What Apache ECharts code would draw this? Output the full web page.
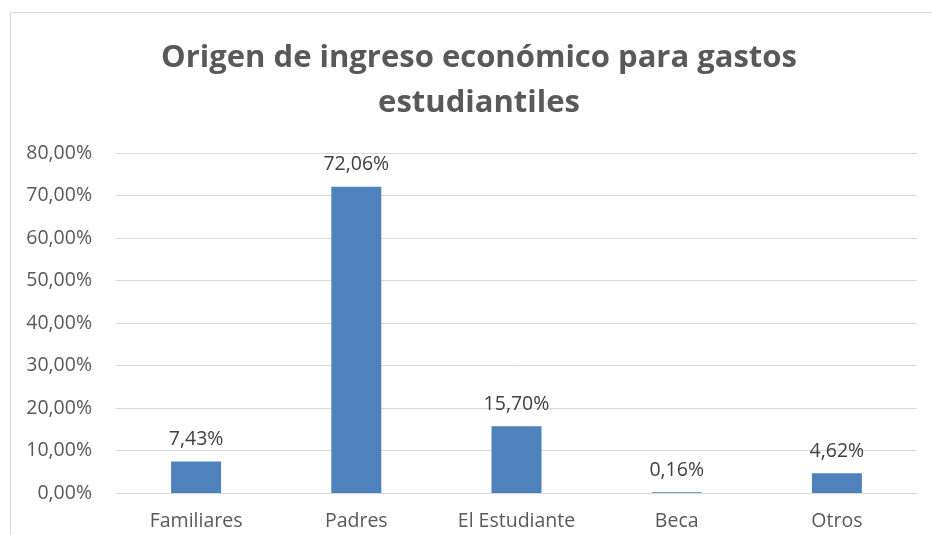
<!DOCTYPE html>
<html><head><meta charset="utf-8">
<script src="https://cdn.jsdelivr.net/npm/echarts@6/dist/echarts.min.js"></script>
<style>html,body{margin:0;padding:0;background:#fff}#c{width:932px;height:535px}</style>
</head><body><div id="c"></div>
<script>
var categories = ['Familiares', 'Padres', 'El Estudiante', 'Beca', 'Otros'];
var values = [7.43, 72.06, 15.70, 0.16, 4.62];
var titleText = 'Origen de ingreso económico para gastos\nestudiantiles';

var chart = echarts.init(document.getElementById('c'), null, {renderer: 'canvas'});
function pct(v) { return v.toFixed(2).replace('.', ',') + '%'; }
chart.setOption({
  animation: false,
  backgroundColor: '#fff',
  graphic: [{
    type: 'rect', shape: {x: 10.5, y: 12.5, width: 940, height: 540},
    style: {fill: 'none', stroke: '#d9d9d9', lineWidth: 1}, silent: true, z: -1
  }],
  title: {
    text: titleText, left: 474, top: 31, textAlign: 'center',
    textStyle: {fontFamily: 'Open Sans', fontWeight: 'bold', fontSize: 31, color: '#595959', lineHeight: 45}
  },
  grid: {left: 116, right: 15, top: 153, bottom: 42, containLabel: false},
  xAxis: {
    type: 'category', data: categories,
    axisLine: {show: true, lineStyle: {color: '#d9d9d9'}},
    axisTick: {show: false},
    axisLabel: {fontFamily: 'Open Sans', fontSize: 19.5, color: '#595959', margin: 18}
  },
  yAxis: {
    type: 'value', min: 0, max: 80, interval: 10,
    axisLine: {show: false}, axisTick: {show: false},
    splitLine: {lineStyle: {color: '#d9d9d9', width: 1}},
    axisLabel: {fontFamily: 'Open Sans', fontSize: 19.5, color: '#595959', margin: 24, formatter: function (v) { return pct(v); }}
  },
  series: [{
    type: 'bar', data: values, barWidth: 50,
    itemStyle: {color: '#4f81bd'},
    label: {show: true, position: 'top', distance: 12, fontFamily: 'Open Sans', fontSize: 19.5, color: '#404040',
      formatter: function (p) { return pct(p.value); }}
  }]
});
</script></body></html>
